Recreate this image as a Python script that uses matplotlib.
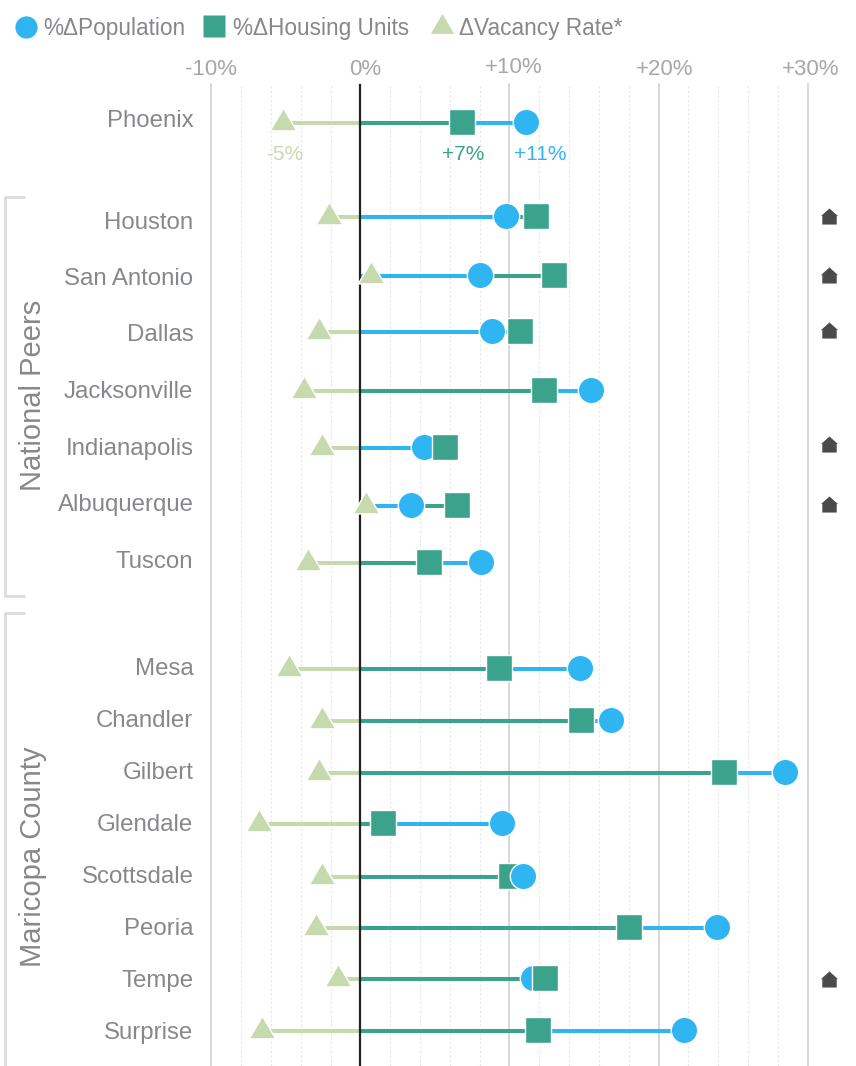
import matplotlib
matplotlib.use("Agg")
from matplotlib import pyplot as plt
from matplotlib.path import Path

plt.rcParams['font.family'] = ['Liberation Sans', 'DejaVu Sans']

cities = ["Phoenix", "Houston", "San Antonio", "Dallas", "Jacksonville", "Indianapolis",
          "Albuquerque", "Tuscon", "Mesa", "Chandler", "Gilbert", "Glendale",
          "Scottsdale", "Peoria", "Tempe", "Surprise"]
population = [11.1, 9.8, 8.0, 8.8, 15.5, 4.3, 3.4, 8.1, 14.7, 16.8, 28.5, 9.5, 10.9, 23.9, 11.6, 21.7]
housing = [6.8, 11.8, 13.0, 10.7, 12.3, 5.7, 6.5, 4.6, 9.3, 14.8, 24.4, 1.5, 10.1, 18.0, 12.4, 11.9]
vacancy = [-5.2, -2.1, 0.7, -2.8, -3.75, -2.6, 0.4, -3.5, -4.8, -2.6, -2.8, -6.8, -2.6, -3.0, -1.5, -6.6]

major_ticks = [-10, 0, 10, 20, 30]
major_labels = ["-10%", "0%", "+10%", "+20%", "+30%"]
minor_ticks = [t for t in range(-8, 30, 2) if t % 10 != 0]

# layout, in pixels from the top of the figure
row_y = [122, 216, 275, 331, 390, 447, 505, 562, 668, 720, 772, 823, 876, 927, 978, 1030]
label_y = [127, 229, 285, 341, 398, 455, 511, 568, 675, 727, 779, 831, 883, 935, 987, 1039]
house_y = {"Houston": 216, "San Antonio": 274.5, "Dallas": 330, "Indianapolis": 444,
           "Albuquerque": 503.5, "Tempe": 979}
tick_shift = [(0, 0), (5, 0), (4, 2), (6, 0), (3, 0)]

BLUE = "#2FB5F2"
TEAL = "#3BA28C"
SAGE = "#C6DAAE"
TEXT = "#87888C"
TICK = "#A6A7AA"
W, H = 856, 1066
TOP = 84

triangle = Path([(-0.93, -0.59), (0.93, -0.59), (0, 1), (-0.93, -0.59)], closed=True)
house = Path([(-1, 0.05), (0, 0.95), (1, 0.05), (0.85, 0.05), (0.85, -0.95),
              (-0.85, -0.95), (-0.85, 0.05), (-1, 0.05)], closed=True)
styles = {
    "pop": dict(marker="o", ms=19, mfc=BLUE),
    "hou": dict(marker="s", ms=19, mfc=TEAL),
    "vac": dict(marker=triangle, ms=20.5, mfc=SAGE),
}

fig = plt.figure(figsize=(W / 100, H / 100), dpi=100)
ax = fig.add_axes([211.2 / W, 0, 596.5 / W, (H - TOP) / H])
ax.set_xlim(-10, 30)
ax.set_ylim(H, TOP)
for s in ax.spines.values():
    s.set_visible(False)
ax.set_yticks([])
ax.set_xticks(major_ticks)
ax.set_xticks(minor_ticks, minor=True)
ax.tick_params(which="both", length=0, labelbottom=False)
ax.grid(which="major", axis="x", color="#CDCDCD", lw=1.1, clip_on=False, zorder=1)
ax.grid(which="minor", axis="x", color="#E6E6E6", lw=0.8, ls=(0, (2, 2)), zorder=1)
ax.set_axisbelow(True)
ax.axvline(0, color="#222222", lw=1.6, zorder=5)

for i in range(len(cities)):
    y = row_y[i]
    # longest stem first, so the shorter one sits on top
    stems = sorted([(population[i], BLUE), (housing[i], TEAL)], reverse=True)
    if cities[i] == "Tempe":
        stems = stems[::-1]
    ax.plot([0, vacancy[i]], [y + 0.7, y + 0.7], color=SAGE, lw=2.9, solid_capstyle="butt", zorder=3)
    for val, col in stems:
        ax.plot([0, val], [y + 0.7, y + 0.7], color=col, lw=2.9, solid_capstyle="butt", zorder=4)
    # the marker further right is drawn last
    order = sorted([(population[i], "pop"), (housing[i], "hou")])
    ax.plot(vacancy[i], y, mec="white", mew=1, ls="none", zorder=6, clip_on=False, **styles["vac"])
    for n, (val, key) in enumerate(order):
        ax.plot(val, y, mec="white", mew=1, ls="none", zorder=7 + n, clip_on=False, **styles[key])

for t, lab, (dx, dy) in zip(major_ticks, major_labels, tick_shift):
    ax.annotate(lab, xy=(t, TOP), xytext=(dx, 4 + dy), textcoords="offset pixels", ha="center",
                va="bottom", fontsize=16, color=TICK, annotation_clip=False)

# value labels under the first row
for val, col, dx in [(vacancy[0], SAGE, 2), (housing[0], TEAL, 1), (population[0], BLUE, 14)]:
    ax.annotate(f"{val:+.0f}%", xy=(val, row_y[0]), xytext=(dx, -38), textcoords="offset pixels",
                ha="center", va="baseline", fontsize=15, color=col, annotation_clip=False)

# overlay in pixel units for the legend, city names, brackets and house icons
ov = fig.add_axes([0, 0, 1, 1], zorder=10)
ov.set_xlim(0, W)
ov.set_ylim(H, 0)
ov.axis("off")
ov.patch.set_alpha(0)

for name, y in zip(cities, label_y):
    ov.text(193.5, y, name, ha="right", va="baseline", fontsize=17.3, color=TEXT)

for i in range(len(cities)):
    if housing[i] > population[i]:
        ov.plot(829, house_y[cities[i]], marker=house, ms=12.2, color="#4A4A4C", mew=0, ls="none")

ov.plot([25, 5, 5, 25], [197, 197, 596, 596], color="#DDDDDD", lw=2,
        solid_joinstyle="miter", solid_capstyle="butt")
ov.plot([25, 5, 5], [613, 613, H], color="#DDDDDD", lw=2,
        solid_joinstyle="miter", solid_capstyle="butt")
ov.text(33.5, 395, "National Peers", rotation=90, ha="center", va="center", fontsize=21, color=TEXT)
ov.text(33.5, 857, "Maricopa County", rotation=90, ha="center", va="center", fontsize=21, color=TEXT)

ov.plot(26, 26.5, marker="o", ms=16, mfc=BLUE, mec="none", ls="none")
ov.text(43, 35, "%ΔPopulation", fontsize=16.3, color=TEXT, va="baseline")
ov.plot(214, 26, marker="s", ms=16, mfc=TEAL, mec="none", ls="none")
ov.text(233, 35, "%ΔHousing Units", fontsize=16.3, color=TEXT, va="baseline")
ov.plot(442, 26, marker=triangle, ms=18, mfc=SAGE, mec="none", ls="none")
ov.text(459, 35, "ΔVacancy Rate*", fontsize=16.3, color=TEXT, va="baseline")

fig.savefig("out.png", dpi=100)
